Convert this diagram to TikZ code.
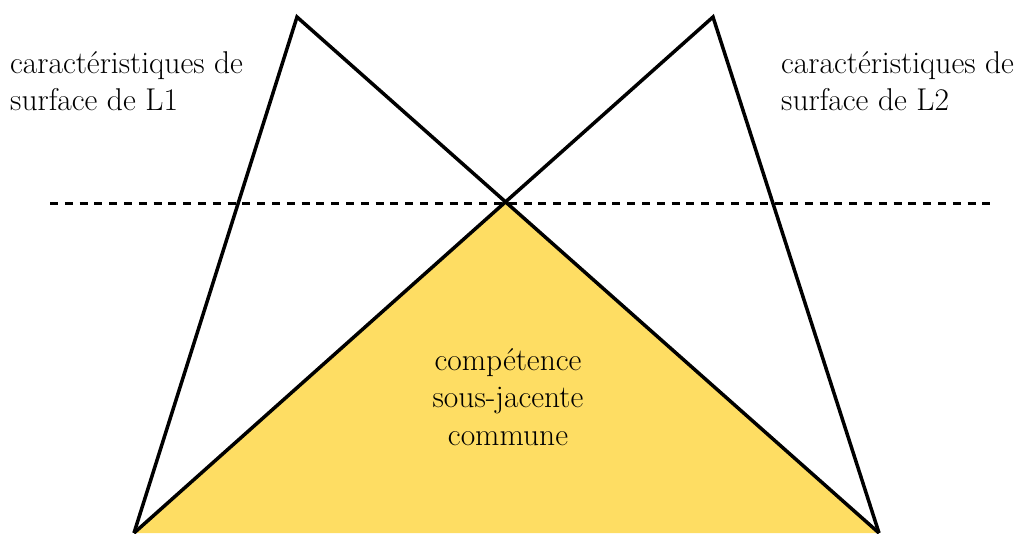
\documentclass[tikz,border=0pt]{standalone}
\usepackage{fontspec}
\definecolor{fillyellow}{RGB}{254,221,99}
\begin{document}
\begin{tikzpicture}[x=1pt,y=-1pt,
  lbl/.style={inner sep=0pt,font=\fontsize{31.5}{37.5}\selectfont},
  tri/.style={draw=black,line width=3.5pt,line join=miter},
  guide/.style={draw=black,line width=3pt,dash pattern=on 8pt off 6.8pt}]
\useasboundingbox (0,0) rectangle (1020,533);
\coordinate (A1) at (297,17);
\coordinate (A2) at (713,17);
\coordinate (B1) at (134,533);
\coordinate (B2) at (879,533);
\path (intersection of A1--B2 and A2--B1) coordinate (X);
\coordinate (GL) at (50,203);
\coordinate (GR) at (995,203);
\fill[fillyellow] (B1) -- (X) -- (B2) -- cycle;
\draw[guide] (GL) -- (GR);
\draw[tri] (B1) -- (A1) -- (B2);
\draw[tri] (B1) -- (A2) -- (B2);
\node[lbl,align=left,anchor=north west] (t1) at (10,51) {caractéristiques de\\surface de L1};
\node[lbl,align=left,anchor=north west] (t2) at (781,51) {caractéristiques de\\surface de L2};
\node[lbl,align=center,anchor=north] (t3) at (508,348) {compétence\\sous-jacente\\commune};
\end{tikzpicture}
\end{document}
